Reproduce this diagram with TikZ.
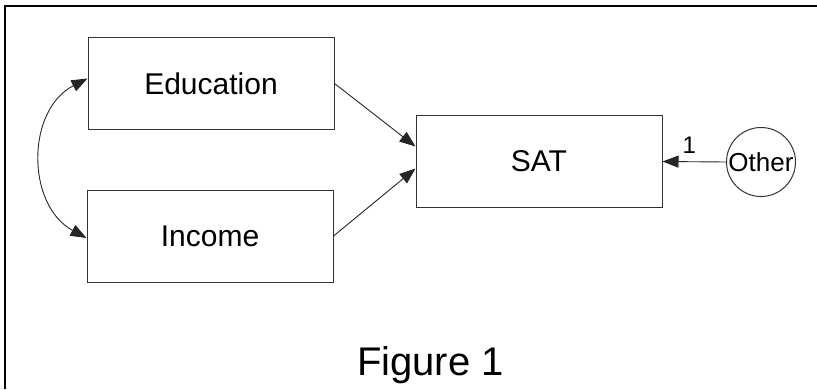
\documentclass[tikz,border=0pt]{standalone}
\usepackage{fontspec}
\setmainfont{Liberation Sans}
\usetikzlibrary{arrows.meta,calc}
\begin{document}
\begin{tikzpicture}[x=1pt,y=-1pt,
  box/.style={draw=black!80,line width=1pt,minimum width=246pt,minimum height=92pt,inner sep=0pt,font=\fontsize{30}{36}\selectfont},
  lat/.style={draw=black!80,line width=1pt,circle,minimum size=69pt,inner sep=0pt,font=\fontsize{26}{30}\selectfont},
  path/.style={line width=0.9pt,draw=black!85,-{Triangle[length=16pt,width=12pt]}},
  both/.style={line width=0.9pt,draw=black!85,{Triangle[length=16pt,width=12pt]}-{Triangle[length=16pt,width=12pt]}}]
\useasboundingbox (0,0) rectangle (817,389);
\fill[white] (0,0) rectangle (817,389);
\coordinate (tl) at (5,6);
\coordinate (tr) at (817,6);
\coordinate (bl) at (5,389);
\draw[line width=1.2pt] (tr) -- (tl) -- (bl);
\node[box] (edu) at (211,83.5) {Education};
\node[box] (inc) at (210,236) {Income};
\node[box] (sat) at (539,161.5) {SAT};
\node[lat] (oth) at (761,162) {Other};
\draw[path] (edu.east) -- ($(sat.west)+(0,-15)$);
\draw[path] (inc.east) -- ($(sat.west)+(0,7)$);
\draw[path] (oth.west) -- node[above,pos=0.58,font=\fontsize{24}{28}\selectfont,inner sep=0pt,yshift=8pt] (one) {1} (sat.east);
\draw[both] ($(edu.west)+(0,-5)$) .. controls (26,110) and (26,205) .. ($(inc.west)+(0,2)$);
\node[font=\fontsize{40}{48}\selectfont,anchor=base] (fig) at (430.5,375) {Figure 1};
\end{tikzpicture}
\end{document}
